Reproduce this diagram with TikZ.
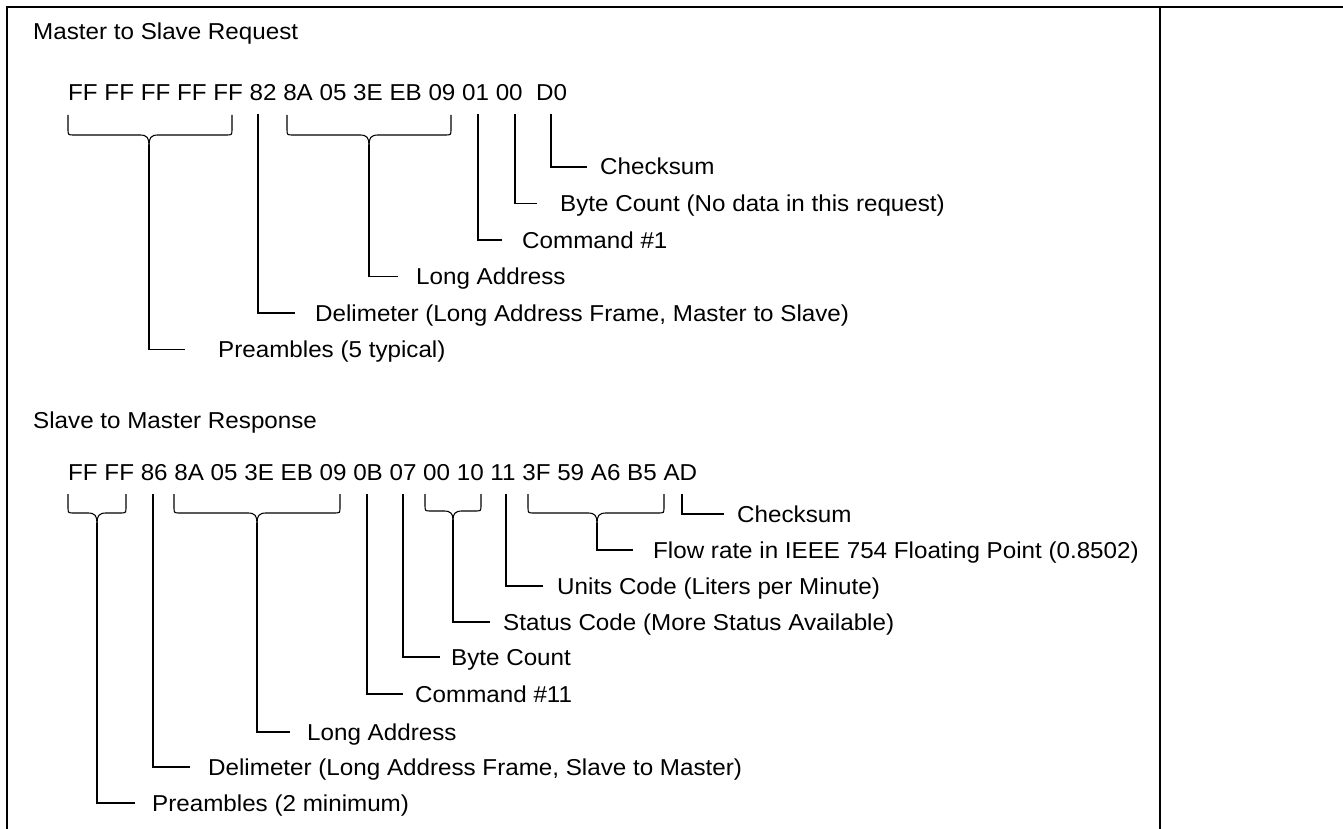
\documentclass[tikz,border=0pt]{standalone}
\usepackage{fontspec}
\setmainfont{Liberation Sans}[FakeStretch=1.052]
\newcommand\hexbrace[6]{% xa xb xc ytop yhoriz ytip
  \draw[conn] (#1,#4) -- (#1,#5-6) .. controls (#1,#5) .. (#1+6,#5) -- (#3-9,#5) .. controls (#3-2,#5) and (#3,#5+3) .. (#3,#6);
  \draw[conn] (#2,#4) -- (#2,#5-6) .. controls (#2,#5) .. (#2-6,#5) -- (#3+9,#5) .. controls (#3+2,#5) and (#3,#5+3) .. (#3,#6);
}
\begin{document}
\begin{tikzpicture}[x=1pt,y=-1pt,
  conn/.style={line width=1.1pt, black},
  framel/.style={line width=2pt, black},
  lbl/.style={anchor=base west, inner sep=0pt, font=\fontsize{23}{27}\selectfont},
]
\useasboundingbox (0,0) rectangle (1343,829);
% frame
\draw[framel] (7,829) -- (7,7) -- (1343,7);
\draw[framel] (1160,7) -- (1160,829);

% ---------- Master to Slave Request ----------
\node[lbl] (t1) at (33,40) {Master to Slave Request};
\node[lbl] (h1) at (68,101) {FF FF FF FF FF 82 8A 05 3E EB 09 01 00\ \ D0};

\hexbrace{68}{232}{149}{115}{135}{145}
\coordinate (a1) at (149,145);
\coordinate (a1e) at (185,349.5);
\node[lbl] (l1a) at (218,357.5) {Preambles (5 typical)};
\draw[conn] (a1) |- (a1e);

\coordinate (b1) at (258,114);
\coordinate (b1e) at (295,313);
\node[lbl] (l1b) at (315,321) {Delimeter (Long Address Frame, Master to Slave)};
\draw[conn] (b1) |- (b1e);

\hexbrace{287}{451}{369}{115}{135}{145}
\coordinate (c1) at (369,145);
\coordinate (c1e) at (398,276.5);
\node[lbl] (l1c) at (416,284.5) {Long Address};
\draw[conn] (c1) |- (c1e);

\coordinate (d1) at (478,114);
\coordinate (d1e) at (502,240);
\node[lbl] (l1d) at (522,248) {Command \#1};
\draw[conn] (d1) |- (d1e);

\coordinate (e1) at (515,114);
\coordinate (e1e) at (537,203.5);
\node[lbl] (l1e) at (560,211.5) {Byte Count (No data in this request)};
\draw[conn] (e1) |- (e1e);

\coordinate (f1) at (551,114);
\coordinate (f1e) at (587,167);
\node[lbl] (l1f) at (600,175) {Checksum};
\draw[conn] (f1) |- (f1e);

% ---------- Slave to Master Response ----------
\node[lbl] (t2) at (33,428) {Slave to Master Response};
\node[lbl] (h2) at (68,480) {FF FF 86 8A 05 3E EB 09 0B 07 00 10 11 3F 59 A6 B5 AD};

\hexbrace{68}{126}{97}{494}{513}{523}
\coordinate (a2) at (97,523);
\coordinate (a2e) at (135,803);
\node[lbl] (l2a) at (152,811) {Preambles (2 minimum)};
\draw[conn] (a2) |- (a2e);

\coordinate (b2) at (153,494);
\coordinate (b2e) at (190,767);
\node[lbl] (l2b) at (208,775) {Delimeter (Long Address Frame, Slave to Master)};
\draw[conn] (b2) |- (b2e);

\hexbrace{174}{340}{257}{494}{513}{523}
\coordinate (c2) at (257,523);
\coordinate (c2e) at (290,732);
\node[lbl] (l2c) at (307,740) {Long Address};
\draw[conn] (c2) |- (c2e);

\coordinate (d2) at (367,494);
\coordinate (d2e) at (403,694);
\node[lbl] (l2d) at (415,702) {Command \#11};
\draw[conn] (d2) |- (d2e);

\coordinate (e2) at (403,494);
\coordinate (e2e) at (440,657);
\node[lbl] (l2e) at (451,665) {Byte Count};
\draw[conn] (e2) |- (e2e);

\hexbrace{425}{481}{453}{494}{511}{520}
\coordinate (f2) at (453,520);
\coordinate (f2e) at (490,622);
\node[lbl] (l2f) at (503,630) {Status Code (More Status Available)};
\draw[conn] (f2) |- (f2e);

\coordinate (g2) at (506,494);
\coordinate (g2e) at (543,586);
\node[lbl] (l2g) at (557,594) {Units Code (Liters per Minute)};
\draw[conn] (g2) |- (g2e);

\hexbrace{528}{664}{597}{494}{513}{523}
\coordinate (h2t) at (597,523);
\coordinate (h2e) at (633,550);
\node[lbl] (l2h) at (653,558) {Flow rate in IEEE 754 Floating Point (0.8502)};
\draw[conn] (h2t) |- (h2e);

\coordinate (i2) at (682,494);
\coordinate (i2e) at (724,514);
\node[lbl] (l2i) at (737,522) {Checksum};
\draw[conn] (i2) |- (i2e);
\end{tikzpicture}
\end{document}
